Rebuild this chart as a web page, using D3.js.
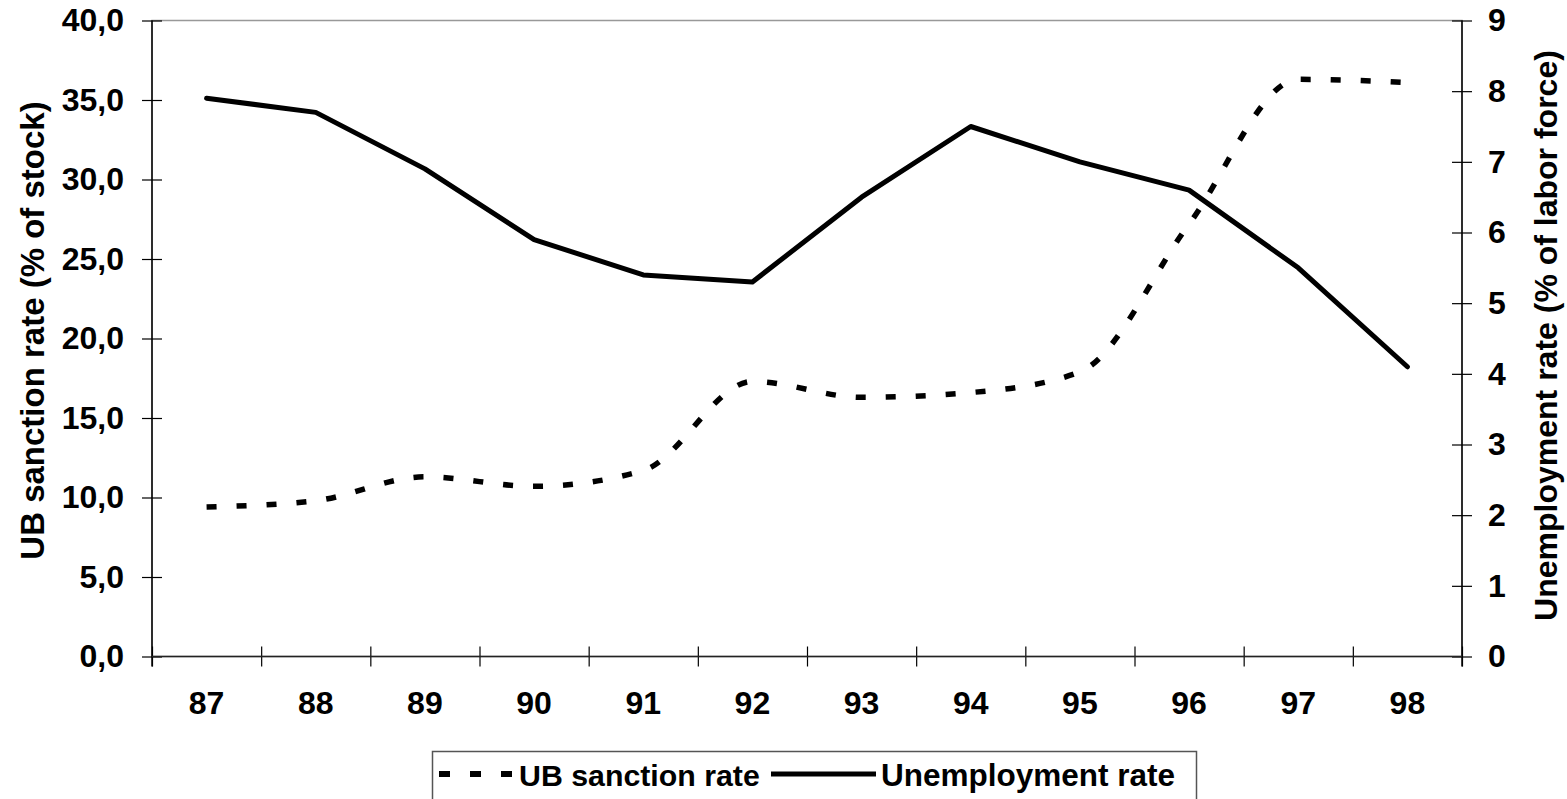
<!DOCTYPE html>
<html>
<head>
<meta charset="utf-8">
<script src="https://cdn.jsdelivr.net/npm/d3@7"></script>
<style>
  html, body { margin: 0; padding: 0; background: #fff; }
  svg { display: block; font-family: "Liberation Sans", Arial, sans-serif; font-weight: bold; }
</style>
</head>
<body>
<div id="chart"></div>
<script>
const years = ['87', '88', '89', '90', '91', '92', '93', '94', '95', '96', '97', '98']
const sanctionRate = [9.4, 9.8, 11.3, 10.7, 11.7, 17.3, 16.3, 16.6, 17.9, 27.2, 36.3, 36.1]
const unemploymentRate = [7.9, 7.7, 6.9, 5.9, 5.4, 5.3, 6.5, 7.5, 7.0, 6.6, 5.5, 4.1]
const leftTicks = [0, 5, 10, 15, 20, 25, 30, 35, 40]
const rightTicks = [0, 1, 2, 3, 4, 5, 6, 7, 8, 9]
const seriesNames = ['UB sanction rate', 'Unemployment rate']

const W = 1567, H = 799
const margin = { top: 20.5, right: 105, bottom: 142.5, left: 152 }
const width = W - margin.left - margin.right
const height = H - margin.top - margin.bottom

const svg = d3.select('#chart').append('svg')
    .attr('width', W)
    .attr('height', H)

const g = svg.append('g')
    .attr('transform', 'translate(' + margin.left + ',' + margin.top + ')')

const x = d3.scaleBand().domain(years).range([0, width]).padding(0)
const xb = d3.scaleLinear().domain([0, years.length]).range([0, width])
const yL = d3.scaleLinear().domain([0, 40]).range([height, 0])
const yR = d3.scaleLinear().domain([0, 9]).range([height, 0])
const cx = d => x(d) + x.bandwidth() / 2

// plot area border (only the top shows, axes cover the rest)
g.append('rect')
    .attr('width', width)
    .attr('height', height)
    .attr('fill', 'none')
    .attr('stroke', '#999')
    .attr('stroke-width', 1.5)

const fmt = d => d3.format('.1f')(d).replace('.', ',')

const leftAxis = g.append('g')
    .call(d3.axisLeft(yL).tickValues(leftTicks).tickFormat(fmt).tickSize(10).tickPadding(18))
const rightAxis = g.append('g')
    .attr('transform', 'translate(' + width + ',0)')
    .call(d3.axisRight(yR).tickValues(rightTicks).tickSize(10).tickPadding(16))
const bottomAxis = g.append('g')
    .attr('transform', 'translate(0,' + height + ')')
    .call(d3.axisBottom(xb).tickValues(d3.range(years.length + 1)).tickFormat('').tickSize(10))
const labelAxis = g.append('g')
    .attr('transform', 'translate(0,' + height + ')')
    .call(d3.axisBottom(x).tickSize(0).tickPadding(35))

labelAxis.select('.domain').remove()

leftAxis.selectAll('.tick line').attr('x1', 10)
rightAxis.selectAll('.tick line').attr('x1', -10)
bottomAxis.selectAll('.tick line').attr('y1', -10)

;[leftAxis, rightAxis, bottomAxis].forEach(a => {
    a.select('.domain').remove()
    a.selectAll('.tick line').attr('stroke', '#000').attr('stroke-width', 1.2)
})

// axis lines
g.append('line').attr('x1', 0).attr('x2', 0).attr('y1', 0).attr('y2', height + 10)
    .attr('stroke', '#000').attr('stroke-width', 1.5)
g.append('line').attr('x1', width).attr('x2', width).attr('y1', 0).attr('y2', height + 10)
    .attr('stroke', '#000').attr('stroke-width', 1.5)
g.append('line').attr('x1', 0).attr('x2', width).attr('y1', height).attr('y2', height)
    .attr('stroke', '#222').attr('stroke-width', 1.5)

g.selectAll('.tick text')
    .attr('fill', '#000')
    .style('font-size', '32px')
    .style('font-weight', 'bold')
    .style('font-family', '"Liberation Sans", Arial, sans-serif')

// axis titles
svg.append('text')
    .attr('transform', 'translate(44,' + (margin.top + height / 2 - 8) + ') rotate(-90)')
    .attr('text-anchor', 'middle')
    .style('font-size', '33px')
    .text('UB sanction rate (% of stock)')

svg.append('text')
    .attr('transform', 'translate(1557,' + (margin.top + height / 2 - 3) + ') rotate(-90)')
    .attr('text-anchor', 'middle')
    .style('font-size', '32px')
    .text('Unemployment rate (% of labor force)')

// lines
const sanctionLine = d3.line()
    .x((d, i) => cx(years[i]))
    .y(d => yL(d))
    .curve(d3.curveMonotoneX)

const unempLine = d3.line()
    .x((d, i) => cx(years[i]))
    .y(d => yR(d))

g.append('path')
    .datum(sanctionRate)
    .attr('d', sanctionLine)
    .attr('fill', 'none')
    .attr('stroke', '#000')
    .attr('stroke-width', 5.5)
    .attr('stroke-dasharray', '10,20')

g.append('path')
    .datum(unemploymentRate)
    .attr('d', unempLine)
    .attr('fill', 'none')
    .attr('stroke', '#000')
    .attr('stroke-width', 5)
    .attr('stroke-linejoin', 'round')
    .attr('stroke-linecap', 'round')

// legend
const legend = svg.append('g')
legend.append('rect')
    .attr('x', 432.5).attr('y', 751.5)
    .attr('width', 764).attr('height', 70)
    .attr('fill', '#fff')
    .attr('stroke', '#555')
    .attr('stroke-width', 1.5)

legend.append('line')
    .attr('x1', 439).attr('x2', 512).attr('y1', 774).attr('y2', 774)
    .attr('stroke', '#000').attr('stroke-width', 6)
    .attr('stroke-dasharray', '11,20')
legend.append('text')
    .attr('x', 519).attr('y', 786)
    .style('font-size', '30.3px')
    .text(seriesNames[0])

legend.append('line')
    .attr('x1', 771).attr('x2', 876).attr('y1', 774).attr('y2', 774)
    .attr('stroke', '#000').attr('stroke-width', 5)
legend.append('text')
    .attr('x', 881).attr('y', 786)
    .style('font-size', '31.5px')
    .text(seriesNames[1])
</script>
</body>
</html>
